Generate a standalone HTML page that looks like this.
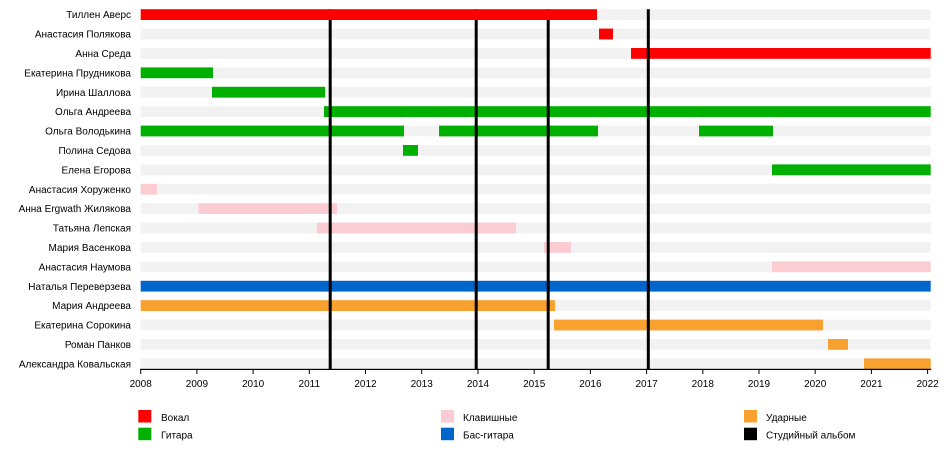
<!DOCTYPE html>
<html>
<head>
<meta charset="utf-8">
<style>
  html,body{margin:0;padding:0;background:#fff;}
  svg{display:block;}
  text{font-family:"Liberation Sans","DejaVu Sans",sans-serif;font-size:10px;fill:#000;}
</style>
</head>
<body>
<svg width="950" height="458" viewBox="0 0 950 458" xmlns="http://www.w3.org/2000/svg">
  <!-- background grey tracks -->
  <g fill="#f2f2f2">
    <rect x="140.7" y="9.2" width="790" height="10.8"/>
    <rect x="140.7" y="28.6" width="790" height="10.8"/>
    <rect x="140.7" y="48.0" width="790" height="10.8"/>
    <rect x="140.7" y="67.4" width="790" height="10.8"/>
    <rect x="140.7" y="86.8" width="790" height="10.8"/>
    <rect x="140.7" y="106.2" width="790" height="10.8"/>
    <rect x="140.7" y="125.6" width="790" height="10.8"/>
    <rect x="140.7" y="145.0" width="790" height="10.8"/>
    <rect x="140.7" y="164.4" width="790" height="10.8"/>
    <rect x="140.7" y="183.8" width="790" height="10.8"/>
    <rect x="140.7" y="203.2" width="790" height="10.8"/>
    <rect x="140.7" y="222.6" width="790" height="10.8"/>
    <rect x="140.7" y="242.0" width="790" height="10.8"/>
    <rect x="140.7" y="261.4" width="790" height="10.8"/>
    <rect x="140.7" y="280.8" width="790" height="10.8"/>
    <rect x="140.7" y="300.2" width="790" height="10.8"/>
    <rect x="140.7" y="319.6" width="790" height="10.8"/>
    <rect x="140.7" y="339.0" width="790" height="10.8"/>
    <rect x="140.7" y="358.4" width="790" height="10.8"/>
  </g>

  <!-- colored bars (except row 0) -->
  <g>
    <!-- row1 -->
    <rect x="599" y="28.6" width="14" height="10.8" fill="#ff0000"/>
    <!-- row2 -->
    <rect x="631" y="48.0" width="299.7" height="10.8" fill="#ff0000"/>
    <!-- row3 -->
    <rect x="140.7" y="67.4" width="72.3" height="10.8" fill="#00b000"/>
    <!-- row4 -->
    <rect x="212" y="86.8" width="113" height="10.8" fill="#00b000"/>
    <!-- row5 -->
    <rect x="324" y="106.2" width="606.7" height="10.8" fill="#00b000"/>
    <!-- row6 -->
    <rect x="140.7" y="125.6" width="263.3" height="10.8" fill="#00b000"/>
    <rect x="439" y="125.6" width="159" height="10.8" fill="#00b000"/>
    <rect x="699" y="125.6" width="74" height="10.8" fill="#00b000"/>
    <!-- row7 -->
    <rect x="403" y="145.0" width="15" height="10.8" fill="#00b000"/>
    <!-- row8 -->
    <rect x="772" y="164.4" width="158.7" height="10.8" fill="#00b000"/>
    <!-- row9 -->
    <rect x="140.7" y="183.8" width="16.3" height="10.8" fill="#fbcdd2"/>
    <!-- row10 -->
    <rect x="198.5" y="203.2" width="138.5" height="10.8" fill="#fbcdd2"/>
    <!-- row11 -->
    <rect x="317" y="222.6" width="199" height="10.8" fill="#fbcdd2"/>
    <!-- row12 -->
    <rect x="544" y="242.0" width="27" height="10.8" fill="#fbcdd2"/>
    <!-- row13 -->
    <rect x="772" y="261.4" width="158.7" height="10.8" fill="#fbcdd2"/>
    <!-- row14 -->
    <rect x="140.7" y="280.8" width="790" height="10.8" fill="#0066cc"/>
    <!-- row15 -->
    <rect x="140.7" y="300.2" width="414.3" height="10.8" fill="#f8a12e"/>
    <!-- row16 -->
    <rect x="554" y="319.6" width="269" height="10.8" fill="#f8a12e"/>
    <!-- row17 -->
    <rect x="828" y="339.0" width="20" height="10.8" fill="#f8a12e"/>
    <!-- row18 -->
    <rect x="864" y="358.4" width="66.7" height="10.8" fill="#f8a12e"/>
  </g>

  <!-- album lines -->
  <g fill="#000">
    <rect x="328.7" y="9.2" width="3" height="360"/>
    <rect x="474.7" y="9.2" width="3" height="360"/>
    <rect x="546.7" y="9.2" width="3" height="360"/>
    <rect x="646.8" y="9.2" width="3" height="360"/>
  </g>

  <!-- row 0 red bar on top -->
  <rect x="140.7" y="9.2" width="456.3" height="10.8" fill="#ff0000"/>

  <!-- row labels -->
  <g text-anchor="end">
    <text x="131" y="18.2">Тиллен Аверс</text>
    <text x="131" y="37.6">Анастасия Полякова</text>
    <text x="131" y="57.0">Анна Среда</text>
    <text x="131" y="76.4">Екатерина Прудникова</text>
    <text x="131" y="95.8">Ирина Шаллова</text>
    <text x="131" y="115.2">Ольга Андреева</text>
    <text x="131" y="134.6">Ольга Володькина</text>
    <text x="131" y="154.0">Полина Седова</text>
    <text x="131" y="173.4">Елена Егорова</text>
    <text x="131" y="192.8">Анастасия Хоруженко</text>
    <text x="131" y="212.2">Анна Ergwath Жилякова</text>
    <text x="131" y="231.6">Татьяна Лепская</text>
    <text x="131" y="251.0">Мария Васенкова</text>
    <text x="131" y="270.4">Анастасия Наумова</text>
    <text x="131" y="289.8">Наталья Переверзева</text>
    <text x="131" y="309.2">Мария Андреева</text>
    <text x="131" y="328.6">Екатерина Сорокина</text>
    <text x="131" y="348.0">Роман Панков</text>
    <text x="131" y="367.4">Александра Ковальская</text>
  </g>

  <!-- axis -->
  <rect x="140.2" y="368.8" width="791" height="1.2" fill="#000"/>
  <g fill="#000">
    <rect x="140.2" y="369" width="1" height="5"/>
    <rect x="196.4" y="369" width="1" height="5"/>
    <rect x="252.6" y="369" width="1" height="5"/>
    <rect x="308.8" y="369" width="1" height="5"/>
    <rect x="365.0" y="369" width="1" height="5"/>
    <rect x="421.2" y="369" width="1" height="5"/>
    <rect x="477.5" y="369" width="1" height="5"/>
    <rect x="533.7" y="369" width="1" height="5"/>
    <rect x="589.9" y="369" width="1" height="5"/>
    <rect x="646.1" y="369" width="1" height="5"/>
    <rect x="702.3" y="369" width="1" height="5"/>
    <rect x="758.5" y="369" width="1" height="5"/>
    <rect x="814.7" y="369" width="1" height="5"/>
    <rect x="870.9" y="369" width="1" height="5"/>
    <rect x="927.1" y="369" width="1" height="5"/>
  </g>
  <g text-anchor="middle">
    <text x="140.7" y="387">2008</text>
    <text x="196.9" y="387">2009</text>
    <text x="253.1" y="387">2010</text>
    <text x="309.3" y="387">2011</text>
    <text x="365.5" y="387">2012</text>
    <text x="421.7" y="387">2013</text>
    <text x="478.0" y="387">2014</text>
    <text x="534.2" y="387">2015</text>
    <text x="590.4" y="387">2016</text>
    <text x="646.6" y="387">2017</text>
    <text x="702.8" y="387">2018</text>
    <text x="759.0" y="387">2019</text>
    <text x="815.2" y="387">2020</text>
    <text x="871.4" y="387">2021</text>
    <text x="927.6" y="387">2022</text>
  </g>

  <!-- legend -->
  <rect x="138.3" y="410" width="13" height="12.5" fill="#ff0000"/>
  <text x="161" y="421">Вокал</text>
  <rect x="138.3" y="427.7" width="13" height="12.5" fill="#00b000"/>
  <text x="161" y="438.5">Гитара</text>

  <rect x="441" y="410" width="13" height="12.5" fill="#fbcdd2"/>
  <text x="463" y="421">Клавишные</text>
  <rect x="441" y="427.7" width="13" height="12.5" fill="#0066cc"/>
  <text x="463" y="438.5">Бас-гитара</text>

  <rect x="744" y="410" width="13" height="12.5" fill="#f8a12e"/>
  <text x="766" y="421">Ударные</text>
  <rect x="744" y="427.7" width="13" height="12.5" fill="#000"/>
  <text x="766" y="438.5">Студийный альбом</text>
</svg>
</body>
</html>
